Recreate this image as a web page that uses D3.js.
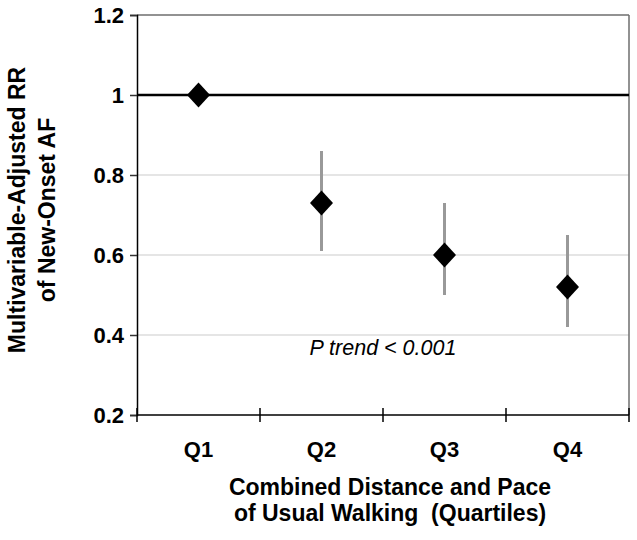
<!DOCTYPE html>
<html>
<head>
<meta charset="utf-8">
<script src="https://d3js.org/d3.v7.min.js"></script>
<style>
  body { margin: 0; background: #fff; }
  text { font-family: Arial, "Liberation Sans", sans-serif; }
</style>
</head>
<body>
<svg id="chart"></svg>
<script>
// Quartiles and relative risk with 95% CI
const quartiles = ["Q1", "Q2", "Q3", "Q4"];
const rr = [1.0, 0.73, 0.60, 0.52];
const lower = [null, 0.61, 0.50, 0.42];
const upper = [null, 0.86, 0.73, 0.65];
const yTicks = [0.2, 0.4, 0.6, 0.8, 1, 1.2];

const W = 637, H = 540;
const margin = {top: 15, right: 8, bottom: 125, left: 137},
    width = W - margin.left - margin.right,
    height = H - margin.top - margin.bottom;

const svg = d3.select("#chart")
    .attr("width", W)
    .attr("height", H)
    .append("g")
    .attr("transform", `translate(${margin.left},${margin.top})`);

const x = d3.scaleBand()
    .domain(quartiles)
    .range([0, width]);

const y = d3.scaleLinear()
    .domain([0.2, 1.2])
    .range([height, 0]);

// light grid lines
svg.selectAll(".grid")
    .data(yTicks.filter(d => d > 0.2 && d < 1))
    .enter().append("line")
    .attr("x1", 0).attr("x2", width)
    .attr("y1", d => y(d)).attr("y2", d => y(d))
    .attr("stroke", "#dcdcdc")
    .attr("stroke-width", 1.5);

// top and right border
svg.append("line")
    .attr("x1", 0).attr("x2", width)
    .attr("y1", y(1.2)).attr("y2", y(1.2))
    .attr("stroke", "#6e6e6e").attr("stroke-width", 1.5);
svg.append("line")
    .attr("x1", width).attr("x2", width)
    .attr("y1", y(1.2)).attr("y2", height)
    .attr("stroke", "#6e6e6e").attr("stroke-width", 1.5);

// reference line at RR = 1
svg.append("line")
    .attr("x1", 0).attr("x2", width)
    .attr("y1", y(1)).attr("y2", y(1))
    .attr("stroke", "#000").attr("stroke-width", 2.5);

// Y axis
const yAxis = svg.append("g")
    .call(d3.axisLeft(y).tickValues(yTicks).tickFormat(d3.format("~g")).tickSize(7).tickPadding(6));
yAxis.select(".domain").attr("stroke", "#000").attr("stroke-width", 1.5);
yAxis.selectAll(".tick line").attr("stroke", "#333").attr("stroke-width", 1.5);
yAxis.selectAll(".tick text")
    .attr("font-size", 22).attr("font-weight", "bold").attr("fill", "#000")
    .style("font-family", "Arial, 'Liberation Sans', sans-serif");

// X axis: ticks at band boundaries
svg.append("line")
    .attr("x1", 0).attr("x2", width)
    .attr("y1", height).attr("y2", height)
    .attr("stroke", "#000").attr("stroke-width", 1.5);
const bounds = quartiles.map(d => x(d)).concat([width]);
svg.selectAll(".xtick")
    .data(bounds)
    .enter().append("line")
    .attr("x1", d => d).attr("x2", d => d)
    .attr("y1", height - 7).attr("y2", height + 7)
    .attr("stroke", "#000").attr("stroke-width", 1.5);
svg.selectAll(".xlabel")
    .data(quartiles)
    .enter().append("text")
    .attr("x", d => x(d) + x.bandwidth() / 2)
    .attr("y", height + 42)
    .attr("text-anchor", "middle")
    .attr("font-size", 22).attr("font-weight", "bold")
    .text(d => d);

// error bars
const pts = quartiles.map((q, i) => ({q, rr: rr[i], lo: lower[i], hi: upper[i]}));
svg.selectAll(".err")
    .data(pts.filter(d => d.lo !== null))
    .enter().append("line")
    .attr("x1", d => x(d.q) + x.bandwidth() / 2)
    .attr("x2", d => x(d.q) + x.bandwidth() / 2)
    .attr("y1", d => y(d.lo)).attr("y2", d => y(d.hi))
    .attr("stroke", "#999").attr("stroke-width", 3);

// diamonds
svg.selectAll(".pt")
    .data(pts)
    .enter().append("path")
    .attr("transform", d => `translate(${x(d.q) + x.bandwidth() / 2},${y(d.rr)})`)
    .attr("d", "M0,-12.5L11.5,0L0,12.5L-11.5,0Z")
    .attr("fill", "#000");

// P trend annotation
svg.append("text")
    .attr("x", x("Q3"))
    .attr("y", y(0.35))
    .attr("text-anchor", "middle")
    .attr("font-size", 21.5).attr("font-style", "italic")
    .text("P trend < 0.001");

// X axis title
const xt = svg.append("text")
    .attr("text-anchor", "middle")
    .attr("font-size", 23).attr("font-weight", "bold");
xt.append("tspan").attr("x", width / 2 + 7).attr("y", height + 80).text("Combined Distance and Pace");
xt.append("tspan").attr("x", width / 2 + 7).attr("y", height + 106).attr("xml:space", "preserve")
    .text("of Usual Walking  (Quartiles)");

// Y axis title
const yt = svg.append("text")
    .attr("transform", "rotate(-90)")
    .attr("text-anchor", "middle")
    .attr("font-size", 23).attr("font-weight", "bold");
yt.append("tspan").attr("x", -(210 - margin.top)).attr("y", 25 - margin.left).text("Multivariable-Adjusted RR");
yt.append("tspan").attr("x", -(210 - margin.top)).attr("y", 55 - margin.left).text("of New-Onset AF");
</script>
</body>
</html>
